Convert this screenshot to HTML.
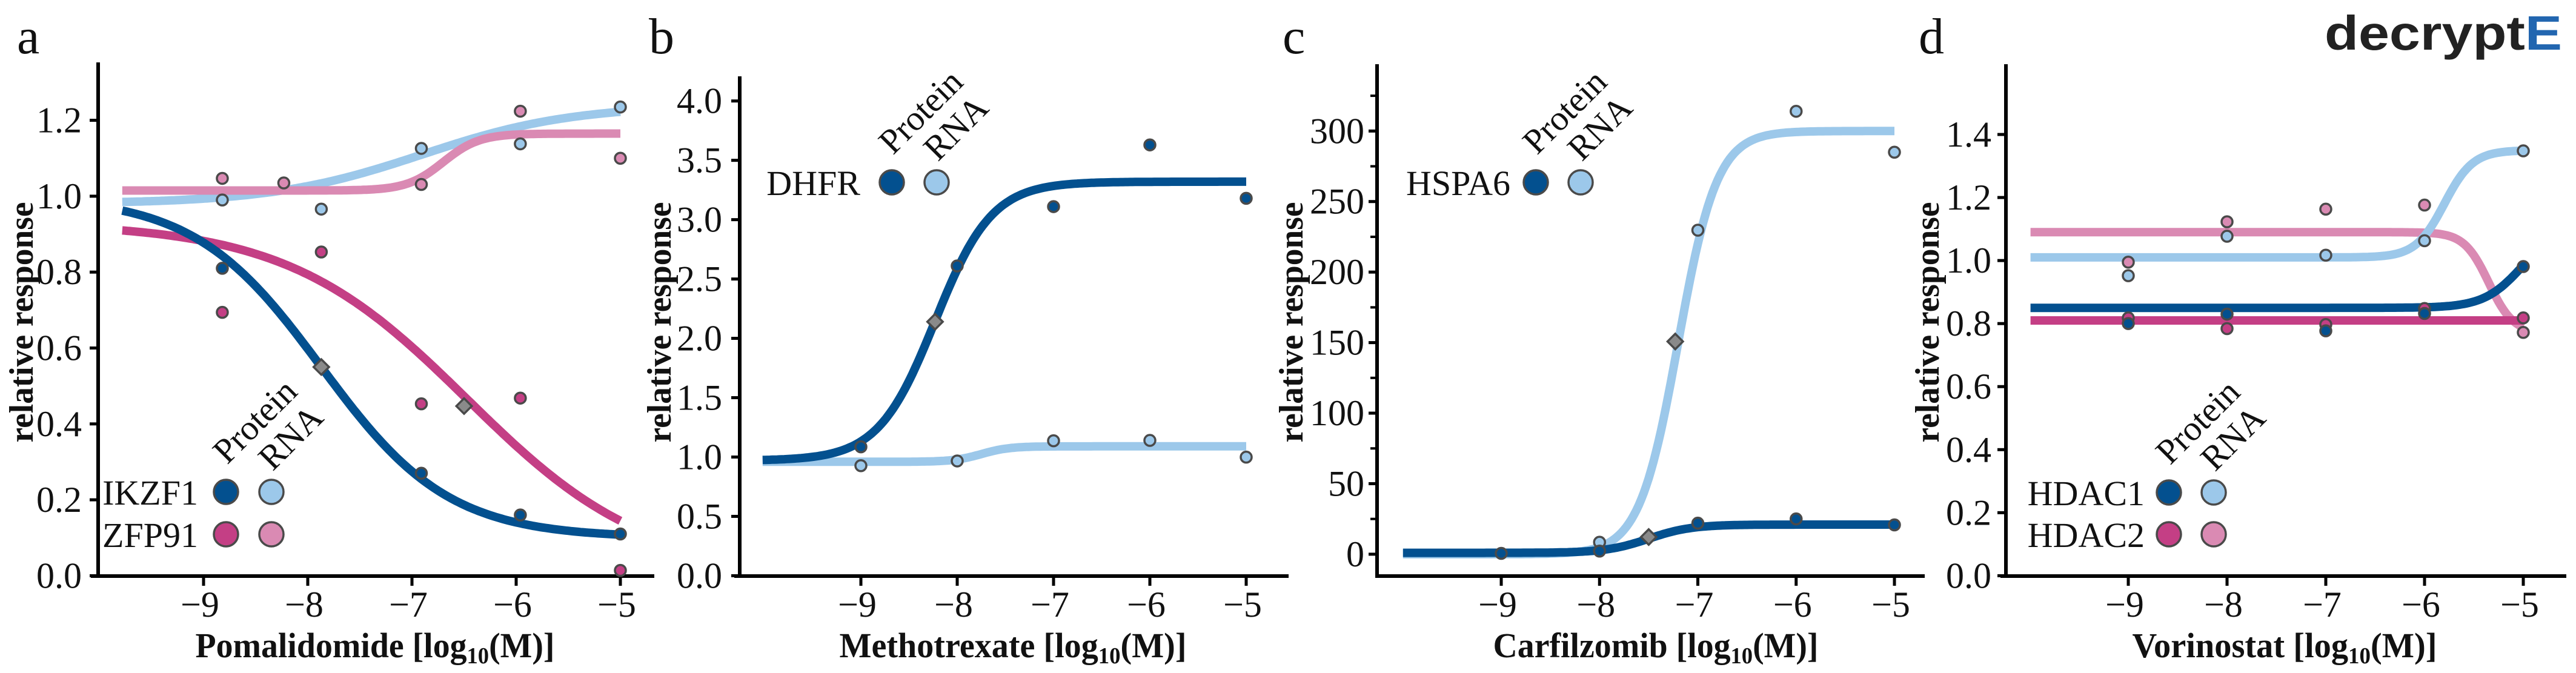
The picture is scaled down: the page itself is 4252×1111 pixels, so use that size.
<!DOCTYPE html>
<html><head><meta charset="utf-8"><style>
html,body{margin:0;padding:0;background:#fff;}
svg{display:block;font-family:"Liberation Serif",serif;}
svg text{font-family:"Liberation Serif",serif;}
svg text.logo{font-family:"Liberation Sans",sans-serif;}
</style></head><body>
<svg id="fig" width="4252" height="1111" viewBox="0 0 4252 1111" xmlns="http://www.w3.org/2000/svg">
<text class="logo" x="3837" y="82" font-family="Liberation Sans, sans-serif" font-weight="bold" font-size="80" textLength="392" lengthAdjust="spacingAndGlyphs" fill="#222">decrypt<tspan fill="#2266b0">E</tspan></text>
</svg>
<script>
// ---- Data (top level) ----
// Panel a: Pomalidomide
const aProtIKZF1X = [-8.82, -6.91, -5.96, -5];
const aProtIKZF1Y = [0.81, 0.27, 0.16, 0.11];
const aProtZFP91X = [-8.82, -7.87, -6.91, -5.96, -5];
const aProtZFP91Y = [0.694, 0.853, 0.453, 0.468, 0.014];
const aRnaIKZF1X = [-8.82, -7.87, -6.91, -5.96, -5];
const aRnaIKZF1Y = [0.99, 0.966, 1.126, 1.138, 1.235];
const aRnaZFP91X = [-8.82, -8.23, -6.91, -5.96, -5];
const aRnaZFP91Y = [1.047, 1.035, 1.031, 1.224, 1.10];
// fit params: [bottom, top, logEC50, hill]
const aFitProtIKZF1 = [0.10, 1.00, -7.87, -0.71];
const aFitProtZFP91 = [0.00, 0.93, -6.47, -0.50];
const aFitRnaIKZF1 = [0.98, 1.24, -6.9, 0.6];
const aFitRnaZFP91 = [1.015, 1.165, -6.7, 2.5];
const aDiamondX = [-7.87, -6.5];
const aDiamondY = [0.55, 0.447];
const aYTicks = [0.0, 0.2, 0.4, 0.6, 0.8, 1.0, 1.2];
const aYTickLabels = ["0.0","0.2","0.4","0.6","0.8","1.0","1.2"];
// Panel b: Methotrexate
const bDoses = [-9, -8, -7, -6, -5];
const bProtDHFR = [1.086, 2.61, 3.11, 3.63, 3.18];
const bRnaDHFR = [0.927, 0.967, 1.137, 1.14, 0.999];
const bFitProt = [0.97, 3.32, -8.23, 1.47];
const bFitRna = [0.96, 1.09, -7.75, 3.0];
const bDiamondX = [-8.23];
const bDiamondY = [2.14];
const bYTicks = [0, 0.5, 1, 1.5, 2, 2.5, 3, 3.5, 4];
const bYTickLabels = ["0.0","0.5","1.0","1.5","2.0","2.5","3.0","3.5","4.0"];
// Panel c: Carfilzomib
const cDoses = [-9, -8, -7, -6, -5];
const cProtHSPA6 = [0.6, 2.2, 22, 25, 20.8];
const cRnaHSPA6X = [-8, -7, -6, -5];
const cRnaHSPA6 = [8.5, 229.7, 314, 285];
const cFitProt = [1, 21, -7.5, 2.0];
const cFitRna = [0, 300, -7.2, 2.2];
const cDiamondX = [-7.5, -7.23];
const cDiamondY = [12.2, 150.8];
const cYTicks = [0, 50, 100, 150, 200, 250, 300];
const cYTickLabels = ["0","50","100","150","200","250","300"];
const cYMinor = [25, 75, 125, 175, 225, 275, 325];
// Panel d: Vorinostat
const dDoses = [-9, -8, -7, -6, -5];
const dProtHDAC1 = [0.80, 0.83, 0.777, 0.832, 0.981];
const dProtHDAC2 = [0.818, 0.784, 0.797, 0.848, 0.818];
const dRnaHDAC1 = [0.952, 1.077, 1.017, 1.063, 1.348];
const dRnaHDAC2 = [0.995, 1.123, 1.163, 1.176, 0.772];
const dFitProtHDAC1 = [0.85, 1.12, -5.0, 2.2];
const dFitProtHDAC2 = [0.81, 0.81, -6.0, 1.0];
const dFitRnaHDAC1 = [1.01, 1.35, -5.8, 3.0];
const dFitRnaHDAC2 = [1.09, 0.77, -5.35, 3.5];
const dYTicks = [0, 0.2, 0.4, 0.6, 0.8, 1.0, 1.2, 1.4];
const dYTickLabels = ["0.0","0.2","0.4","0.6","0.8","1.0","1.2","1.4"];
const xTicks = [-9, -8, -7, -6, -5];
const xTickLabels = ["\u22129","\u22128","\u22127","\u22126","\u22125"];

const DB = "#03508f", LB = "#9cc8ea", MG = "#c43f85", PK = "#da8ab3";
const SERIF = '"Liberation Serif", serif';
const NS = "http://www.w3.org/2000/svg";
const svg = document.getElementById('fig');
function mk(tag, attrs, parent) {
  const e = document.createElementNS(NS, tag);
  if (tag === 'text') e.setAttribute('font-family', SERIF);
  for (const k in attrs) e.setAttribute(k, attrs[k]);
  (parent || svg).appendChild(e);
  return e;
}
function logistic(p, x) { return p[0] + (p[1] - p[0]) / (1 + Math.pow(10, p[3] * (p[2] - x))); }

function panel(cfg) {
  const g = mk('g', {});
  
  
  const xs = v => cfg.x9 + (v + 9) * (cfg.x5 - cfg.x9) / 4;
  const ys = v => cfg.y0 + (v - cfg.v0) * (cfg.yT - cfg.y0) / (cfg.vT - cfg.v0);
  const L = mk('text', {x: cfg.letterX, y: 88, 'font-size': 84, fill: '#111'}, g);
  L.textContent = cfg.id;
  
  
  const ya = mk('line', {x1: cfg.ax, x2: cfg.ax, y1: cfg.top, y2: cfg.xAxisY + 3, stroke: '#000', 'stroke-width': 6}, g);
  
  
  const xa = mk('line', {x1: cfg.xl, x2: cfg.xr, y1: cfg.xAxisY, y2: cfg.xAxisY, stroke: '#000', 'stroke-width': 6}, g);
  
  
  cfg.yTicks.forEach((v, i) => {
    const y = ys(v);
    mk('line', {x1: cfg.ax - 14, x2: cfg.ax, y1: y, y2: y, stroke: '#000', 'stroke-width': 5}, g);
    const t = mk('text', {x: cfg.labR, y: y + 20, 'font-size': 60, 'text-anchor': 'end', fill: '#111'}, g);
    t.textContent = cfg.yLabels[i];
    
    
  });
  (cfg.minor || []).forEach(v => {
    const y = ys(v);
    mk('line', {x1: cfg.ax - 11, x2: cfg.ax, y1: y, y2: y, stroke: '#000', 'stroke-width': 4}, g);
  });
  xTicks.forEach((v, i) => {
    const x = xs(v);
    mk('line', {x1: x, x2: x, y1: cfg.xAxisY, y2: cfg.xAxisY + 16, stroke: '#000', 'stroke-width': 5}, g);
    const t = mk('text', {x: x - 6, y: 1018, 'font-size': 60, 'text-anchor': 'middle', fill: '#111'}, g);
    t.textContent = xTickLabels[i];
    
    
  });
  const yt = mk('text', {x: 0, y: 0, 'font-size': 56, 'font-weight': 'bold', 'text-anchor': 'middle', fill: '#111',
    transform: `translate(${cfg.ytX + 19},532) rotate(-90)`, textLength: 397, lengthAdjust: 'spacingAndGlyphs'}, g);
  yt.textContent = 'relative response';
  
  
  const xt = mk('text', {x: cfg.xtX, y: 1085, 'font-size': 58, 'font-weight': 'bold', 'text-anchor': 'middle', fill: '#111',
    textLength: cfg.xtW, lengthAdjust: 'spacingAndGlyphs'}, g);
  
  
  xt.appendChild(document.createTextNode(cfg.drug + ' [log'));
  const sub = mk('tspan', {'font-size': 38, dy: 10}, xt); sub.textContent = '10';
  const rest = mk('tspan', {dy: -10}, xt); rest.textContent = '(M)]';
  cfg.curves.forEach(c => {
    let d = '';
    for (let i = 0; i <= 200; i++) {
      const v = cfg.xStart + (-5 - cfg.xStart) * i / 200;
      d += (i ? 'L' : 'M') + xs(v).toFixed(1) + ',' + ys(logistic(c.p, v)).toFixed(1);
    }
    const path = mk('path', {d: d, fill: 'none', stroke: c.color, 'stroke-width': 14}, g);
    
    
  });
  cfg.points.forEach(s => {
    s.x.forEach((xv, i) => {
      const pt = mk('circle', {cx: xs(xv), cy: ys(s.y[i]), r: 9, fill: s.color, stroke: '#4a4a4a', 'stroke-width': 3.5}, g);
      
      
    });
  });
  cfg.diamondX.forEach((xv, i) => {
    const cx = xs(xv), cy = ys(cfg.diamondY[i]);
    const dm = mk('rect', {x: cx - 9, y: cy - 9, width: 18, height: 18, fill: '#8a8a8a', stroke: '#4a4a4a', 'stroke-width': 3.5,
      transform: `rotate(45 ${cx} ${cy})`}, g);
    
    
  });
  const lg = cfg.legend;
  const lgG = mk('g', {}, g);
  
  
  const pl = mk('text', {x: 0, y: 0, 'font-size': 58, fill: '#111', transform: `translate(${lg.c1 + 2},${lg.rows[0].y - 44}) rotate(-45)`}, lgG);
  pl.textContent = 'Protein';
  
  
  const rl = mk('text', {x: 0, y: 0, 'font-size': 58, fill: '#111', transform: `translate(${lg.c2 + 2},${lg.rows[0].y - 33}) rotate(-45)`}, lgG);
  rl.textContent = 'RNA';
  
  
  lg.rows.forEach(r => {
    const t = mk('text', {x: lg.nameR, y: r.y + 21, 'font-size': 58, 'text-anchor': 'end', fill: '#111'}, lgG);
    t.textContent = r.name;
    
    
    const a = mk('circle', {cx: lg.c1, cy: r.y, r: 20, fill: r.c1, stroke: '#4a4a4a', 'stroke-width': 3.5}, lgG);
    
    
    const b = mk('circle', {cx: lg.c2, cy: r.y, r: 20, fill: r.c2, stroke: '#4a4a4a', 'stroke-width': 3.5}, lgG);
    
    
  });
}

panel({id: 'a', letterX: 28, ax: 162, top: 103, xAxisY: 951, xl: 150, xr: 1080, x9: 336, x5: 1024,
  y0: 950.4, v0: 0, yT: 198.6, vT: 1.2, labR: 135, ytX: 35, xtX: 619, xtW: 593, drug: 'Pomalidomide', xStart: -9.78,
  yTicks: aYTicks, yLabels: aYTickLabels,
  curves: [{p: aFitRnaIKZF1, color: LB, name: 'ikzf1-rna'}, {p: aFitRnaZFP91, color: PK, name: 'zfp91-rna'},
           {p: aFitProtZFP91, color: MG, name: 'zfp91-protein'}, {p: aFitProtIKZF1, color: DB, name: 'ikzf1-protein'}],
  points: [{x: aRnaIKZF1X, y: aRnaIKZF1Y, color: LB, name: 'ikzf1-rna'}, {x: aRnaZFP91X, y: aRnaZFP91Y, color: PK, name: 'zfp91-rna'},
           {x: aProtZFP91X, y: aProtZFP91Y, color: MG, name: 'zfp91-protein'}, {x: aProtIKZF1X, y: aProtIKZF1Y, color: DB, name: 'ikzf1-protein'}],
  diamondX: aDiamondX, diamondY: aDiamondY,
  legend: {nameR: 327, c1: 373, c2: 448, rows: [{name: 'IKZF1', y: 812, c1: DB, c2: LB}, {name: 'ZFP91', y: 882, c1: MG, c2: PK}]}
});
panel({id: 'b', letterX: 1071, ax: 1221, top: 126, xAxisY: 951, xl: 1212, xr: 2127, x9: 1421, x5: 2057,
  y0: 950.4, v0: 0, yT: 166.7, vT: 4, labR: 1192, ytX: 1088, xtX: 1672, xtW: 573, drug: 'Methotrexate', xStart: -10.02,
  yTicks: bYTicks, yLabels: bYTickLabels,
  curves: [{p: bFitRna, color: LB, name: 'dhfr-rna'}, {p: bFitProt, color: DB, name: 'dhfr-protein'}],
  points: [{x: bDoses, y: bRnaDHFR, color: LB, name: 'dhfr-rna'}, {x: bDoses, y: bProtDHFR, color: DB, name: 'dhfr-protein'}],
  diamondX: bDiamondX, diamondY: bDiamondY,
  legend: {nameR: 1420, c1: 1472, c2: 1546, rows: [{name: 'DHFR', y: 301, c1: DB, c2: LB}]}
});
panel({id: 'c', letterX: 2117, ax: 2273, top: 106, xAxisY: 951, xl: 2271, xr: 3177, x9: 2478, x5: 3127,
  y0: 914.9, v0: 0, yT: 216.3, vT: 300, labR: 2252, ytX: 2131, xtX: 2733, xtW: 537, drug: 'Carfilzomib', xStart: -10.0,
  yTicks: cYTicks, yLabels: cYTickLabels, minor: cYMinor,
  curves: [{p: cFitRna, color: LB, name: 'hspa6-rna'}, {p: cFitProt, color: DB, name: 'hspa6-protein'}],
  points: [{x: cRnaHSPA6X, y: cRnaHSPA6, color: LB, name: 'hspa6-rna'}, {x: cDoses, y: cProtHSPA6, color: DB, name: 'hspa6-protein'}],
  diamondX: cDiamondX, diamondY: cDiamondY,
  legend: {nameR: 2493, c1: 2535, c2: 2609, rows: [{name: 'HSPA6', y: 301, c1: DB, c2: LB}]}
});
panel({id: 'd', letterX: 3167, ax: 3311, top: 106, xAxisY: 951, xl: 3302, xr: 4236, x9: 3513, x5: 4165,
  y0: 950.4, v0: 0, yT: 222, vT: 1.4, labR: 3287, ytX: 3181, xtX: 3771, xtW: 503, drug: 'Vorinostat', xStart: -9.99,
  yTicks: dYTicks, yLabels: dYTickLabels,
  curves: [{p: dFitRnaHDAC2, color: PK, name: 'hdac2-rna'}, {p: dFitRnaHDAC1, color: LB, name: 'hdac1-rna'},
           {p: dFitProtHDAC1, color: DB, name: 'hdac1-protein'}, {p: dFitProtHDAC2, color: MG, name: 'hdac2-protein'}],
  points: [{x: dDoses, y: dRnaHDAC1, color: LB, name: 'hdac1-rna'}, {x: dDoses, y: dRnaHDAC2, color: PK, name: 'hdac2-rna'},
           {x: dDoses, y: dProtHDAC2, color: MG, name: 'hdac2-protein'}, {x: dDoses, y: dProtHDAC1, color: DB, name: 'hdac1-protein'}],
  diamondX: [], diamondY: [],
  legend: {nameR: 3540, c1: 3580, c2: 3654, rows: [{name: 'HDAC1', y: 813, c1: DB, c2: LB}, {name: 'HDAC2', y: 882, c1: MG, c2: PK}]}
});
</script>
</body></html>
